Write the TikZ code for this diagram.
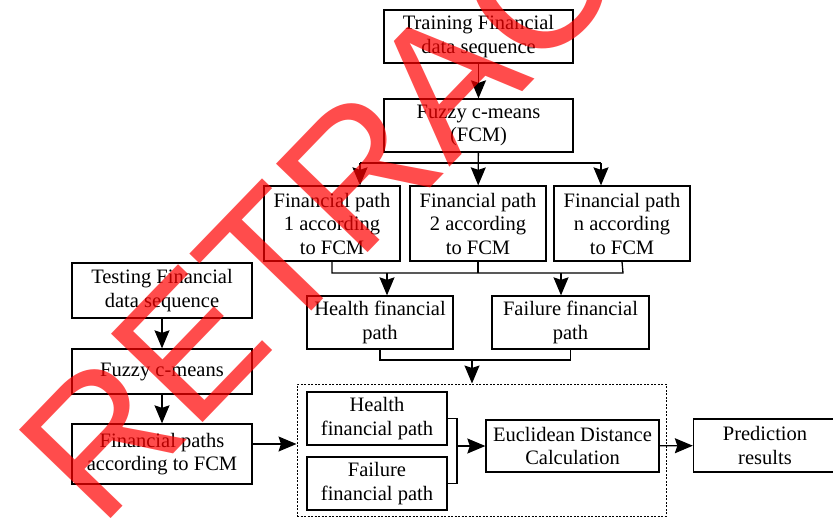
\documentclass[tikz,border=0pt]{standalone}
\usepackage{fontspec}
\setmainfont{Liberation Serif}
\newfontfamily\stampfont{Liberation Sans}
\usetikzlibrary{arrows.meta}

\begin{document}
\begin{tikzpicture}[x=1pt, y=-1pt,
	box/.style={draw, line width=1.3pt, align=center, inner sep=0pt, font=\fontsize{20.5}{23.5}\selectfont},
	wire/.style={line width=1.3pt},
	arrow/.style={wire, -{Stealth[length=18pt, width=15pt, inset=2.5pt]}}]
	%%%%% START %%%%%
	\useasboundingbox (0,0) rectangle (833,517);
	
	% training branch
	\node[box, minimum width=189pt, minimum height=53pt] (train) at (478.5,36.5) {Training Financial\\data sequence};
	\node[box, minimum width=189pt, minimum height=53pt] (fcm) at (478.5,125.5) {Fuzzy c-means\\(FCM)};
	\node[box, minimum width=136pt, minimum height=75pt] (path1) at (332,223.5) {Financial path\\1 according\\to FCM};
	\node[box, minimum width=136pt, minimum height=75pt] (path2) at (478,223.5) {Financial path\\2 according\\to FCM};
	\node[box, minimum width=136pt, minimum height=75pt] (pathn) at (622,223.5) {Financial path\\n according\\to FCM};
	\node[box, minimum width=146pt, minimum height=53pt] (health) at (380,322.5) {Health financial\\path};
	\node[box, minimum width=157pt, minimum height=53pt] (failure) at (570.5,322.5) {Failure financial\\path};
	
	\draw[arrow] (train) -- (fcm);
	\coordinate (split1) at (360,163);
	\coordinate (splitn) at (601,163);
	\draw[wire] (split1) -- (splitn);
	\draw[arrow] (fcm) -- (path2);
	\draw[arrow] (split1) -- (split1 |- path1.north);
	\draw[arrow] (splitn) -- (splitn |- pathn.north);
	
	\coordinate (join1) at (332,273);
	\coordinate (joinn) at (623,273);
	\draw[wire] (path1.south) -- (join1) -- (joinn) -- (pathn.south);
	\draw[wire] (path2.south) -- (path2.south |- join1);
	\coordinate (tohealth) at (387,273);
	\coordinate (tofail) at (561,273);
	\draw[arrow] (tohealth) -- (tohealth |- health.north);
	\draw[arrow] (tofail) -- (tofail |- failure.north);
	
	% testing branch
	\node[box, minimum width=180pt, minimum height=55pt] (test) at (162,290.5) {Testing Financial\\data sequence};
	\node[box, minimum width=180pt, minimum height=45pt] (lfcm) at (162,371.5) {Fuzzy c-means};
	\node[box, minimum width=180pt, minimum height=60pt] (lpaths) at (162,454) {Financial paths\\according to FCM};
	\draw[arrow] (test) -- (lfcm);
	\draw[arrow] (lfcm) -- (lpaths);
	
	% matching frame
	\node[draw, line width=1pt, dash pattern=on 2pt off 1.5pt, minimum width=369pt, minimum height=132pt] (frame) at (481.5,450) {};
	\node[box, minimum width=140pt, minimum height=53pt] (ihealth) at (377,418.5) {Health\\financial path};
	\node[box, minimum width=140pt, minimum height=53pt] (ifail) at (377,483.5) {Failure\\financial path};
	\node[box, minimum width=173pt, minimum height=52pt] (eucl) at (572.5,446) {Euclidean Distance\\Calculation};
	\node[box, minimum width=143pt, minimum height=53pt] (pred) at (765,445.5) {Prediction\\results};
	
	\coordinate (merge) at (472,360);
	\draw[wire] (health.south) |- (merge) -| (failure.south);
	\draw[arrow] (merge) -- (merge |- frame.north);
	\draw[arrow] ([yshift=10pt]lpaths.east) -- ([yshift=10pt]lpaths.east -| frame.west);
	\coordinate (brace) at (457,450);
	\draw[wire] (ihealth.east) -| (brace) |- (ifail.east);
	\draw[arrow] (brace |- eucl.west) -- (eucl.west);
	\draw[arrow] (eucl) -- (pred);
	
	% retraction stamp
	\node[font=\stampfont\fontsize{185}{185}\selectfont, text=red, text opacity=0.7, rotate=46, anchor=base west, inner sep=0pt] (stamp) at (100,530) {RETRACTED};
	%%%%% END %%%%%
\end{tikzpicture}
\end{document}
